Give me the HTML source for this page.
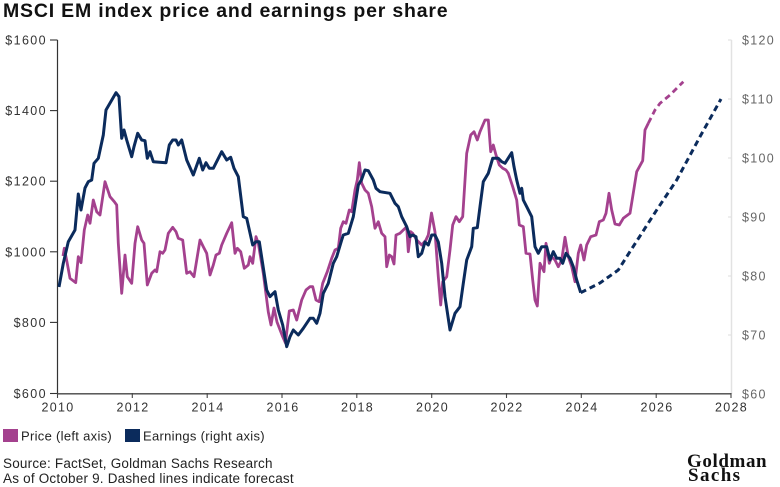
<!DOCTYPE html>
<html>
<head>
<meta charset="utf-8">
<style>
html,body{margin:0;padding:0;background:#fff;}
svg{display:block;}
text{font-family:"Liberation Sans",sans-serif;}
</style>
</head>
<body>
<svg width="780" height="487" viewBox="0 0 780 487" xmlns="http://www.w3.org/2000/svg">
<rect width="780" height="487" fill="#fff"/>
<!-- Title -->
<text x="3" y="17" font-size="19.5" font-weight="bold" fill="#111" style="letter-spacing:0.8px">MSCI EM index price and earnings per share</text>

<!-- Right axis (light) -->
<line x1="731.5" y1="40" x2="731.5" y2="394" stroke="#e2e2e2" stroke-width="1.5"/>
<g stroke="#e2e2e2" stroke-width="1.2">
<line x1="728" y1="40" x2="731.5" y2="40"/>
<line x1="728" y1="99" x2="731.5" y2="99"/>
<line x1="728" y1="158" x2="731.5" y2="158"/>
<line x1="728" y1="217" x2="731.5" y2="217"/>
<line x1="728" y1="276" x2="731.5" y2="276"/>
<line x1="728" y1="335" x2="731.5" y2="335"/>
</g>
<g font-size="12.5" fill="#666" style="letter-spacing:1.3px">
<text x="742" y="44.5">$120</text>
<text x="742" y="103.5">$110</text>
<text x="742" y="162.5">$100</text>
<text x="742" y="221.5">$90</text>
<text x="742" y="280.5">$80</text>
<text x="742" y="339.5">$70</text>
<text x="742" y="398.5">$60</text>
</g>

<!-- Left axis -->
<line x1="57.5" y1="40" x2="57.5" y2="394" stroke="#333" stroke-width="1.2"/>
<g stroke="#333" stroke-width="1.1">
<line x1="50" y1="40" x2="57.5" y2="40"/>
<line x1="50" y1="110.6" x2="57.5" y2="110.6"/>
<line x1="50" y1="181.2" x2="57.5" y2="181.2"/>
<line x1="50" y1="251.8" x2="57.5" y2="251.8"/>
<line x1="50" y1="322.4" x2="57.5" y2="322.4"/>
<line x1="50" y1="393.5" x2="57.5" y2="393.5"/>
</g>
<g font-size="12.5" fill="#333" text-anchor="end" style="letter-spacing:1.4px">
<text x="47" y="44.5">$1600</text>
<text x="47" y="115">$1400</text>
<text x="47" y="185.7">$1200</text>
<text x="47" y="256.3">$1000</text>
<text x="47" y="327">$800</text>
<text x="47" y="398">$600</text>
</g>

<!-- Bottom axis -->
<line x1="57" y1="393.8" x2="731.5" y2="393.8" stroke="#444" stroke-width="1.4"/>
<g stroke="#444" stroke-width="1.1">
<line x1="57.5" y1="393" x2="57.5" y2="398"/>
<line x1="132.3" y1="393" x2="132.3" y2="398"/>
<line x1="207.2" y1="393" x2="207.2" y2="398"/>
<line x1="282" y1="393" x2="282" y2="398"/>
<line x1="356.8" y1="393" x2="356.8" y2="398"/>
<line x1="431.7" y1="393" x2="431.7" y2="398"/>
<line x1="506.5" y1="393" x2="506.5" y2="398"/>
<line x1="581.3" y1="393" x2="581.3" y2="398"/>
<line x1="656.2" y1="393" x2="656.2" y2="398"/>
<line x1="731" y1="393" x2="731" y2="398"/>
</g>
<g font-size="12.5" fill="#333" text-anchor="middle" style="letter-spacing:1.3px">
<text x="58" y="411.5">2010</text>
<text x="133" y="411.5">2012</text>
<text x="208" y="411.5">2014</text>
<text x="283" y="411.5">2016</text>
<text x="357.5" y="411.5">2018</text>
<text x="432.5" y="411.5">2020</text>
<text x="507" y="411.5">2022</text>
<text x="582" y="411.5">2024</text>
<text x="657" y="411.5">2026</text>
<text x="731.5" y="411.5">2028</text>
</g>

<!-- Price series -->
<polyline fill="none" stroke="#a4418e" stroke-width="2.8" stroke-linejoin="round" points="
63,256 64.3,248.3 67,262 70,278.3 75.7,282.7 78.3,256.7 81,262.7 84.3,230 87.7,215 90,223.3 93.3,200 96.7,211.7 100,215 105,181.7 110,196.7 114.3,201.7 116.7,205 118.3,243.3 121.7,293.3 125,255 127.3,276.7 131.7,283.3 135,243.3 137.7,226.7 141.7,240 144,243.3 147.3,285 151.7,273.3 155,270 156.7,271.7 160,251.7 162.7,253.3 165,250 168.3,233.3 172.7,227.3 176,231.7 178.3,238.3 182.7,240 186.7,273.3 190,271.7 194,276.7 200,240 203.3,246.7 206.7,253.3 210,275 213.3,265 216,255 219.3,253.3 221.7,245 226.7,233.3 231.7,222.7 235,253.3 237.3,248.3 240.7,251.7 244.3,268.3 248.3,265 250,256.7 252.7,263.3 256,236.7 258.3,243.3 263.3,273.3 268.3,312 271,325 274,308 277,322 282.7,336.7 285.5,343 289.3,311 293.3,310 296.7,320 301.7,300 306,290 310,286.7 312.7,286.7 316,300 319.3,301.7 322.7,283.3 327.3,271.7 331.7,258.3 335,250 338.3,248.3 340.7,228.3 343.3,221.7 346,223.3 349.3,210 351.7,211.7 355,190 357.3,180 359.3,162.7 361.7,183.3 365,190 368.3,193.3 371.7,206.7 375,228.3 378.3,221.7 381.7,233.3 385,236.7 386.7,266.7 389.3,255 391.7,256.7 394,264 396,235 400,233.3 403.3,230 406.7,226.7 408.3,251.7 410.7,231.7 412.7,233.3 416.7,240 421.7,245 426,240 428.3,235 431.5,213 435,232 438.3,276.7 440.7,305 442.7,281.7 446.7,276.7 450,250 452.7,225 456,216.7 459.3,221.7 462.7,216.7 466.7,153.3 470.7,135 474,131.7 477.3,140 480,131.7 485,120 488.3,120 490.7,151.7 493.3,145 496,155 499.3,165 502.7,168.3 506,170 508.3,173.3 512.7,186.7 516.7,200 519.3,225 523.3,226.7 526,253.3 530,254 532.7,280 535,300 537.3,306 540,263.3 544,271.7 546,243.3 549.3,263.3 551.7,256.7 555,260 558.3,266.7 561.7,260 565,237.3 568.3,256.7 571.7,266.7 575,281.7 578.3,253.3 580.7,245 584,260 586.7,245 590.7,236.7 596,235 599.3,221.7 603.3,220 606,213.3 609,193.3 611.7,210 615,224 619.3,225 623.3,218.3 630,213.3 632.7,196.7 636.7,171.7 642.7,160.7 645,130 648.3,123.3"/>
<polyline fill="none" stroke="#a4418e" stroke-width="2.8" stroke-dasharray="6,4" points="648.3,123.3 655,110 660,103.3 670,95 683.3,81.7"/>

<!-- Earnings series -->
<polyline fill="none" stroke="#0b2b5c" stroke-width="3" stroke-linejoin="round" points="
59,287 63.3,263.3 68.3,241.7 75,230 78.3,194 81,210 85,188 88.3,181.7 91.7,180 94,163.3 98.3,158.3 103.3,135 106,110 116,92.7 119,96.7 121.7,138.3 124,130 126.7,140 131.7,156.7 134,146.7 137.7,133.3 141.7,140 145,140.7 147.3,158.3 150,151.7 153.3,161.7 166,162.7 169.3,145 172.7,140 176,140 178.3,145 181.7,140 186.7,160 193.3,175 199.3,158.3 202.7,170 206,162.7 209.3,168.3 213.3,168.3 221.7,151.7 226.7,160 230.7,157.3 234,168.3 238.3,176.7 243.3,216.7 246.7,218.3 252.7,245 256,241.7 259.3,241.7 266.7,290 270,296.7 273.3,293.3 275,291.7 278.3,310 282.7,325 286.7,346.7 290,336.7 293.3,330 298.3,335 303.3,328.3 310,318.3 313.3,318.3 316.7,323.3 320,313.3 323.3,293.3 328.3,283.3 333.3,263.3 336.7,256.7 341.7,240 343.3,235 348.3,233.3 353.3,216.7 358.3,185 361.7,179.3 365,170 368.3,170.7 373.3,180 376,188.3 380,191.7 390,193.3 395,203.3 398.3,206.7 401.7,216.7 406.7,226.7 410,236.7 412.7,235 416,236.7 418.3,256.7 421.7,253.3 425,242 428.3,245 431.7,235 435,235 438.3,242 441.7,263.3 445,296.7 450,330 455,313.3 460,306.7 463.3,283.3 466.7,260 471.7,246.7 473.3,228.3 477.3,227.7 480,206.7 483.3,181.7 488.3,173.3 492.7,158.3 498.3,158.3 501.7,161.7 505,163.3 511.7,152.7 514,166.7 516.7,180 520,193.3 521.7,188.3 523.3,200 526.7,206.7 531.7,216.7 535,246.7 538.3,253.3 541.7,246.7 546.7,246.7 550,260 553.3,251.7 556.7,258.3 560,258.3 562.7,263.3 566,253.3 570,258.3 573.3,266.7 576.7,280 580.7,292.7"/>
<polyline fill="none" stroke="#0b2b5c" stroke-width="3" stroke-dasharray="6,4" points="580.7,292.7 600,283 618.3,270 626.7,256.7 656.7,210 676.7,180 700,136.7 721,99"/>

<!-- Legend -->
<rect x="3" y="429" width="15" height="13" fill="#a4418e"/>
<text x="21" y="440.5" font-size="13" fill="#222" style="letter-spacing:0.3px">Price (left axis)</text>
<rect x="125" y="429" width="15" height="13" fill="#0b2b5c"/>
<text x="143" y="440.5" font-size="13" fill="#222" style="letter-spacing:0.3px">Earnings (right axis)</text>

<!-- Footer -->
<text x="3" y="468" font-size="13.5" fill="#222" style="letter-spacing:0.2px">Source: FactSet, Goldman Sachs Research</text>
<text x="3" y="483" font-size="13.5" fill="#222" style="letter-spacing:0.2px">As of October 9. Dashed lines indicate forecast</text>

<!-- Logo -->
<text x="687" y="467" font-size="19" font-weight="bold" fill="#111" style="font-family:'Liberation Serif',serif;letter-spacing:0.6px">Goldman</text>
<text x="688" y="481" font-size="19" font-weight="bold" fill="#111" style="font-family:'Liberation Serif',serif;letter-spacing:1.4px">Sachs</text>
</svg>
</body>
</html>
